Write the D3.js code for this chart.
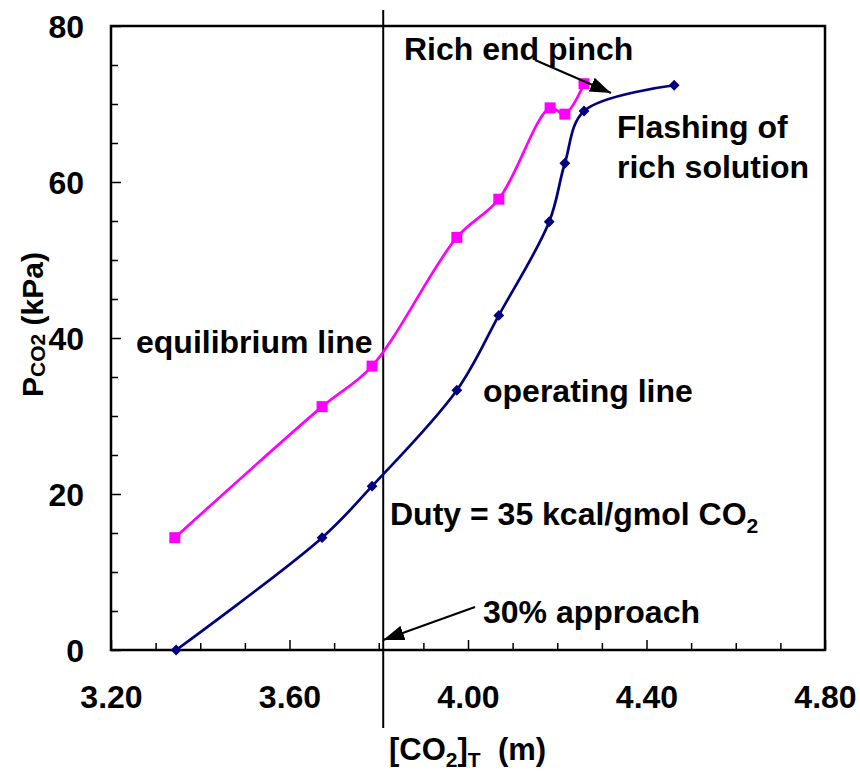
<!DOCTYPE html>
<html>
  <head>
    <meta charset="utf-8">
    <script src="https://cdn.jsdelivr.net/npm/d3@7"></script>
    <style>
      body { margin: 0; background: #ffffff; }
      text { font-family: "Liberation Sans", Arial, sans-serif; font-weight: bold; fill: #000; }
    </style>
  </head>
  <body>
    <script>
      // Loading of CO2 in the solution (shared by both lines)
      var co2Total = [3.343, 3.673, 3.785, 3.975, 4.069, 4.184, 4.217, 4.260];
      // Equilibrium partial pressure of CO2 (kPa)
      var equilibriumP = [14.4, 31.2, 36.4, 52.9, 57.8, 69.5, 68.7, 72.6];
      // Operating line: one more point where the rich solution flashes
      var operatingX = [3.346, 3.673, 3.785, 3.975, 4.069, 4.182, 4.217, 4.260, 4.462];
      var operatingP = [0, 14.4, 21.0, 33.3, 42.9, 54.9, 62.4, 69.1, 72.4];

      var xMajor = [3.2, 3.6, 4.0, 4.4, 4.8];
      var yMajor = [0, 20, 40, 60, 80];
      var approachX = 3.81;

      var width = 860, height = 773;
      var margin = {top: 26, right: 35, bottom: 123, left: 111};

      var svg = d3.select("body").append("svg")
        .attr("width", width).attr("height", height);

      // Scales
      var x = d3.scaleLinear().domain([3.2, 4.8]).range([margin.left, width - margin.right]);
      var y = d3.scaleLinear().domain([0, 80]).range([height - margin.bottom, margin.top]);

      // Arrow head
      svg.append("defs").append("marker")
        .attr("id", "head").attr("viewBox", "0 0 10 10")
        .attr("refX", 10).attr("refY", 5)
        .attr("markerWidth", 21).attr("markerHeight", 15)
        .attr("markerUnits", "userSpaceOnUse")
        .attr("orient", "auto")
        .attr("preserveAspectRatio", "none")
        .append("path").attr("d", "M0,0L10,5L0,10Z").attr("fill", "#000");

      // Minor ticks first (no labels)
      var xMinor = d3.range(3.2, 4.81, 0.1).filter(function(d){ return Math.abs(d * 10 % 4) > 0.01 && Math.abs(d * 10 % 4 - 4) > 0.01; });
      svg.append("g").attr("transform", "translate(0," + y(0) + ")")
        .call(d3.axisBottom(x).tickValues(xMinor).tickSize(-7).tickSizeOuter(0).tickFormat(""))
        .call(function(g){ g.select(".domain").remove(); });
      var yMinor = d3.range(5, 80, 5).filter(function(d){ return d % 20 !== 0; });
      svg.append("g").attr("transform", "translate(" + x(3.2) + ",0)")
        .call(d3.axisLeft(y).tickValues(yMinor).tickSize(-7).tickSizeOuter(0).tickFormat(""))
        .call(function(g){ g.select(".domain").remove(); });

      // Major ticks with labels
      var xAxis = svg.append("g").attr("transform", "translate(0," + y(0) + ")")
        .call(d3.axisBottom(x).tickValues(xMajor).tickSize(-10).tickSizeOuter(0)
          .tickFormat(d3.format(".2f")));
      xAxis.select(".domain").remove();
      xAxis.selectAll("text").attr("y", 58).attr("dy", 0)
        .style("font-size", "32px").style("font-family", null);

      var yAxis = svg.append("g").attr("transform", "translate(" + x(3.2) + ",0)")
        .call(d3.axisLeft(y).tickValues(yMajor).tickSize(-10).tickSizeOuter(0)
          .tickFormat(d3.format("d")));
      yAxis.select(".domain").remove();
      yAxis.selectAll("text").attr("x", -27).attr("dy", "0.36em")
        .style("font-size", "32px").style("font-family", null);

      svg.selectAll(".tick line").attr("stroke", "#000").attr("stroke-width", 1.5);

      // Plot frame
      svg.append("rect")
        .attr("x", x(3.2)).attr("y", y(80))
        .attr("width", x(4.8) - x(3.2)).attr("height", y(0) - y(80))
        .attr("fill", "none").attr("stroke", "#000").attr("stroke-width", 2.5);

      // 30% approach line
      svg.append("line")
        .attr("x1", x(approachX)).attr("x2", x(approachX))
        .attr("y1", 10).attr("y2", 728)
        .attr("stroke", "#000").attr("stroke-width", 2);

      var line = d3.line().curve(d3.curveCatmullRom.alpha(0.5))
        .x(function(d){ return x(d[0]); })
        .y(function(d){ return y(d[1]); });

      var eqData = co2Total.map(function(d, i){ return [d, equilibriumP[i]]; });
      var opData = operatingX.map(function(d, i){ return [d, operatingP[i]]; });

      svg.append("path").datum(eqData).attr("d", line)
        .attr("fill", "none").attr("stroke", "#ff00ff").attr("stroke-width", 2.7);
      svg.append("path").datum(opData).attr("d", line)
        .attr("fill", "none").attr("stroke", "#000080").attr("stroke-width", 2.7);

      svg.selectAll(".eq").data(eqData).enter().append("path")
        .attr("class", "eq")
        .attr("transform", function(d){ return "translate(" + x(d[0]) + "," + y(d[1]) + ")"; })
        .attr("d", d3.symbol(d3.symbolSquare, 121))
        .attr("fill", "#ff00ff");
      svg.selectAll(".op").data(opData).enter().append("path")
        .attr("class", "op")
        .attr("transform", function(d){ return "translate(" + x(d[0]) + "," + y(d[1]) + ")"; })
        .attr("d", d3.symbol(d3.symbolDiamond2, 75))
        .attr("fill", "#000080");

      // Annotations
      function label(tx, ty, str, size) {
        return svg.append("text").attr("x", tx).attr("y", ty)
          .style("font-size", (size || 32) + "px").text(str);
      }
      label(404, 60, "Rich end pinch");
      label(617, 138, "Flashing of");
      label(617, 178, "rich solution");
      label(136, 353, "equilibrium line");
      label(483, 402, "operating line");
      label(483, 623, "30% approach");

      var duty = label(390, 525, "Duty = 35 kcal/gmol CO");
      duty.append("tspan").attr("dy", 8).style("font-size", "21px").text("2");

      svg.append("line").attr("x1", 535).attr("y1", 60).attr("x2", 611).attr("y2", 93)
        .attr("stroke", "#000").attr("stroke-width", 2).attr("marker-end", "url(#head)");
      svg.append("line").attr("x1", 475).attr("y1", 607).attr("x2", x(approachX)).attr("y2", 640)
        .attr("stroke", "#000").attr("stroke-width", 2).attr("marker-end", "url(#head)");

      // Axis titles
      var xt = svg.append("text").attr("x", 389).attr("y", 760)
        .attr("xml:space", "preserve").style("font-size", "31px");
      xt.append("tspan").text("[CO");
      xt.append("tspan").attr("dy", 7).style("font-size", "21px").text("2");
      xt.append("tspan").attr("dy", -7).text("]");
      xt.append("tspan").attr("dy", 7).style("font-size", "21px").text("T");
      xt.append("tspan").attr("dy", -7).text("  (m)");

      var yt = svg.append("text")
        .attr("transform", "translate(43,397) rotate(-90)")
        .style("font-size", "30px");
      yt.append("tspan").text("P");
      yt.append("tspan").attr("dy", 2).style("font-size", "21px").text("CO2");
      yt.append("tspan").attr("dy", -2).text(" (kPa)");
    </script>
  </body>
</html>
